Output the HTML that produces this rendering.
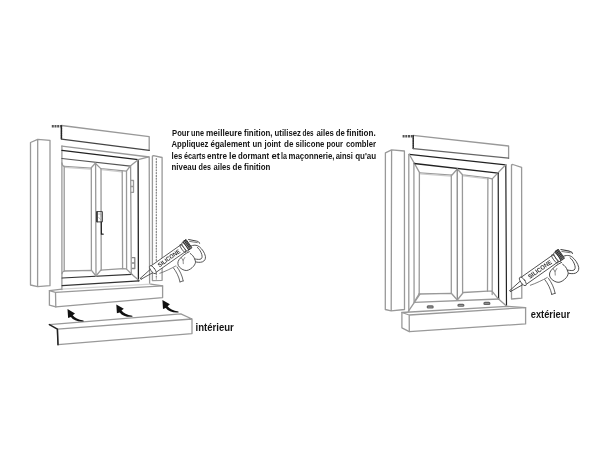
<!DOCTYPE html>
<html><head><meta charset="utf-8">
<style>
html,body{margin:0;padding:0;background:#fff;width:600px;height:466px;overflow:hidden}
svg{display:block}
.t{font-family:"Liberation Sans",sans-serif;font-weight:bold;fill:#151515}
</style></head><body>
<svg width="600" height="466" viewBox="0 0 600 466">
<defs>
<g id="gun" fill="none" stroke="#444" stroke-width="0.8" stroke-linejoin="round" stroke-linecap="round">
<!-- trigger -->
<path d="M32.6,-10.8 C35.5,-7 38,-2.5 39.2,3.2 M36.2,-11.8 C39,-8 41.3,-3.5 42.4,2.2 M39.2,3.2 L42.4,2.2" fill="#fff"/>
<!-- frame under tube -->
<path d="M19,-5.4 C25,-7.5 30,-10 35,-12.8" stroke="#666"/>
<!-- handle loop -->
<path d="M49.5,-32.4 C52.5,-34 56,-34 58.5,-32 C61.5,-29.5 63.8,-26 64.6,-22.4 C65,-19.8 64,-17.8 61.5,-16.8 C59,-16 56,-16.4 53.3,-17.2 L53.8,-19.8 C56.5,-19.3 59,-19 60.3,-19.8 C61.8,-21 61.5,-23.5 60.2,-26.3 C59.3,-28.3 58,-30.3 56.5,-31.3" fill="#fff" stroke-width="0.9"/>
<!-- body / grip housing -->
<path d="M48.5,-27 C45,-25.5 41,-22.5 38.2,-19 C36.5,-16.5 36.7,-13.5 38.7,-11.5 C40.7,-9.5 43.5,-8 46,-8.2 C48.5,-8.6 51,-10.5 52.8,-12.5 C54.2,-14.3 55,-16 54.6,-17.6 L53.8,-19.8 C53,-22 51.5,-24 49.5,-25.2" fill="#fff" stroke-width="0.9"/>
<path d="M40.5,-21 L42.3,-18.3 L44,-21.2 M42.3,-18.3 L42.5,-15" stroke-width="0.6"/>
<!-- rod -->
<path d="M47.8,-39.2 L55.8,-37.6 C57.5,-37.2 58.6,-36.6 58.8,-35.4" stroke-width="1"/>
<path d="M48.7,-37.3 L56.5,-36.1" stroke-width="0.7"/>
<g transform="rotate(-35.2)">
<!-- nozzle -->
<path d="M0,-0.6 L13.5,-2.2 M0,0.6 L13.5,2 M0,-0.6 L0,0.6"/>
<!-- tube -->
<path d="M15,-4.6 L56,-4.6 L56,3.6 L15,3.6 Z" fill="#fff"/>
<ellipse cx="15" cy="-0.5" rx="2" ry="4.8" fill="#fff"/>
<ellipse cx="51.8" cy="-0.5" rx="1.3" ry="4.8"/>
<ellipse cx="54.6" cy="-0.5" rx="1.5" ry="5.2" fill="#fff"/>
<path d="M56.2,-6 L59.6,-6 L59.6,4.2 L56.2,4.2 Z" fill="#999" stroke="#333" stroke-width="0.9"/>
<path d="M57.4,-5.6 L57.4,3.5 M58.6,-5.6 L58.6,2.5" stroke-width="0.8" stroke="#222"/>
<text style="filter:grayscale(1)" x="34.7" y="1.5" font-family="Liberation Sans,sans-serif" font-weight="bold" font-size="6" fill="#333" stroke="none" text-anchor="middle" textLength="26" lengthAdjust="spacingAndGlyphs">SILICONE</text>
</g>
</g>
<path id="arrow" d="M0,0 L7.5,4.3 L5.2,6.2 Q8,10.2 16,11.4 L16.2,12.4 Q7,13 3.4,8 L0.6,8.9 Z"/>
</defs>
<g fill="none" stroke="#999" stroke-width="1.3" stroke-linejoin="round" stroke-linecap="round">
<!-- ============ LEFT DRAWING ============ -->
<!-- left trim -->
<path d="M30.5,142.5 L37.7,139.3 L50,140.3 L50,285.7 L37.6,286.6 L30.5,285 Z M37.7,139.3 L37.6,286.6"/>
<!-- header aile -->
<path d="M61.5,125.5 L149.2,136.7 L149.2,150.3"/>
<path d="M61.4,125.7 L61.4,139" stroke="#222" stroke-width="1.6" stroke-dasharray="1.6,0.7"/>
<path d="M61.5,139.2 L149.2,150.3" stroke="#444" stroke-width="1.3"/>
<path d="M51.8,126.3 L61.2,126.2" stroke="#555" stroke-width="2.4" stroke-dasharray="2,0.7" stroke-linecap="butt"/>
<!-- right trim -->
<path d="M152.4,156.2 L153.5,155.7 L162.1,157.5 L162.1,280.3 L152.4,280.6 Z"/>
<path d="M156.3,158.5 L156.3,279" stroke-dasharray="1.1,1.7" stroke="#777" stroke-width="1.1"/>
<!-- frame -->
<path d="M61.9,146.2 L149.2,157 L149.6,283.6"/>
<path d="M61.9,146 L61.9,289.6"/>
<path d="M61.9,150.3 L138.1,159.7 L138.4,280.8" stroke="#222" stroke-width="1.3"/>
<path d="M138.1,159.7 L148.8,156.8"/>
<path d="M138.1,159.7 L130.3,166"/>
<path d="M61.9,158.5 L130.3,166.1" stroke="#555" stroke-width="1.2"/>
<path d="M130.6,166 L131.3,274.3"/>
<path d="M131.8,274.3 L139,280.6"/>
<path d="M62.1,278 L131.8,274.3" stroke="#333" stroke-width="1.2"/>
<path d="M62.1,285.7 L139,280.8" stroke="#333" stroke-width="1.2"/>
<!-- sashes -->
<path d="M61.9,162.9 Q62.5,166.3 64.2,166.4 L90.8,168.2 L95.3,163.3 L100.8,168.6 L126.4,171.2 L130.3,166"/>
<path d="M65,167.4 L90.3,169.1 M101.4,169.6 L122,171.9" stroke="#ccc" stroke-width="1.3"/>
<path d="M64.2,166.4 L64.2,271 Q62.5,271.5 62,273.5"/>
<path d="M64.2,271 L91.5,270.3 L96,276 L100.8,270.2 L122.7,268.6 L126.3,268.9 L131.8,274.3"/>
<path d="M91.3,168.2 L91.4,270.3"/>
<path d="M95.6,163.3 L96,276"/>
<path d="M101,168.6 L101.2,270.2"/>
<path d="M122.2,171 L122.6,268.6"/>
<path d="M126.5,171.2 L126.6,268.9"/>
<!-- handle -->
<path d="M96.9,211.6 L102.4,211.6 L102.4,221.9 L96.9,221.9 Z" stroke="#444" stroke-width="1"/>
<path d="M97.2,211.8 L97.2,221.7" stroke="#333" stroke-width="1.3"/>
<path d="M98.6,214 L101.2,214 L101.2,216.5 M98.8,217.5 L100.5,219.5" stroke-width="0.7"/>
<path d="M101.3,222 L101.4,234.2 L103.2,234.2" stroke="#222" stroke-width="1.2"/>
<!-- hinges -->
<path d="M130.8,180.3 L133.5,180.5 L133.5,192.3 L131,192.3 M131,186.5 L133.5,186.5" stroke="#999"/>
<path d="M132.4,257.7 L134.8,257.7 L134.8,268.5 L132.4,268.5 M132.4,263 L134.8,263" stroke="#888"/>
<!-- step block -->
<path d="M62,289.2 L150.8,284.1" stroke="#d4d4d4"/>
<path d="M62,289.2 L49.4,290.6 L49.4,305.2 L55.8,306.9 L162.6,297.6 L162.6,285.8 L150.8,284.1"/>
<path d="M49.4,290.6 L55.5,292.3 L162.6,285.8 M55.5,292.3 L55.8,306.9"/>
<!-- lower board -->
<path d="M49.4,324.6 L180.8,313.8 L192,319 L192,333.6 L58,344.7 L57.4,329.2 L192,319"/>
<path d="M49.4,324.6 L57.4,329.2 L58,344.7" stroke="#222" stroke-width="1.5"/>
<!-- ============ RIGHT DRAWING ============ -->
<!-- left trim -->
<path d="M385.4,152.8 L391.6,149.9 L404.4,151 L404.5,309.5 L391.2,310.8 L385.3,309.5 Z M391.6,149.9 L391.2,310.8"/>
<!-- header -->
<path d="M413,135.4 L508.6,146 L508.6,158.2"/>
<path d="M413.2,135.7 L413.2,148.4" stroke="#222" stroke-width="1.5" stroke-dasharray="1.6,0.7"/>
<path d="M413.3,148.6 L508.6,158.2" stroke="#666" stroke-width="1.2"/>
<path d="M402.6,136.3 L412.8,136.2" stroke="#555" stroke-width="2.5" stroke-dasharray="2,0.7" stroke-linecap="butt"/>
<!-- frame -->
<path d="M409.2,154.3 L505.7,164.8" stroke="#222" stroke-width="1.3"/>
<path d="M408.8,154.3 L408.8,311.2"/>
<path d="M505.8,164.8 L506.5,306.3" stroke="#222" stroke-width="1.2"/>
<path d="M409.2,154.3 L419.7,172.9"/>
<path d="M414.2,163.5 L498.2,173.2" stroke="#222" stroke-width="1.3"/>
<path d="M505.7,164.8 L492.2,178.9"/>
<path d="M498.2,173.2 L498.6,299.5" stroke="#222" stroke-width="1.2"/>
<path d="M413.9,163.5 L414.1,302.5"/>
<!-- glass / sashes -->
<path d="M419.7,172.9 L451.8,175.2 L457.3,169 L462.5,174.8 L487.9,177.8 L492.2,178.9"/>
<path d="M420.5,173.9 L451.3,176.1 M463.2,175.8 L487.9,178.8" stroke="#ccc" stroke-width="1.3"/>
<path d="M419.4,172.9 L419.2,294"/>
<path d="M451.3,175 L451.3,293.3"/>
<path d="M457.2,169 L457.3,300" stroke="#888"/>
<path d="M462.4,174.8 L462.6,292.5"/>
<path d="M487.9,177.8 L487.5,291.2"/>
<path d="M492.4,178.9 L492.2,294.6"/>
<path d="M419,294 L451.3,293.3 L457.3,300 L463.3,292.5 L487.5,291.2 L492,291.2"/>
<path d="M419,294 L414.5,301.5"/>
<path d="M492,291.2 L497.7,298.2"/>
<path d="M414.3,302.3 L499.3,299"/>
<path d="M419.8,294.4 L408.3,311.4"/>
<path d="M497.7,298.2 L506.7,306.3"/>
<!-- drain slots -->
<rect x="427.3" y="306" width="5.8" height="1.8" rx="0.9" fill="#bbb" stroke="#666"/>
<rect x="458" y="304.4" width="5.8" height="1.8" rx="0.9" fill="#bbb" stroke="#666"/>
<rect x="484" y="302.5" width="5.8" height="1.8" rx="0.9" fill="#bbb" stroke="#666"/>
<!-- right trim -->
<path d="M511.5,164.8 L512.8,164.5 L521.6,167.3 L521.8,298.2 L511.5,299 Z"/>
<!-- sill -->
<path d="M401.9,312.5 L507.2,306.3 L525.6,307.6 L525.6,323.9 L409.3,331.6 L401.9,327.8 Z"/>
<path d="M401.9,312.5 L409.2,315 L525.6,307.6 M409.2,315 L409.3,331.6"/>
</g>
<use href="#gun" transform="translate(140.8,278.7)"/>
<use href="#gun" transform="translate(510.2,291) scale(1.06)"/>
<!-- arrows -->
<g fill="#111">
<use href="#arrow" x="67.5" y="309.1"/>
<use href="#arrow" x="116.3" y="304.4"/>
<use href="#arrow" x="162.4" y="300"/>
</g>
<!-- text -->
<g class="t" font-size="9.6" style="filter:grayscale(1)">
<text x="172.05" y="135.6" textLength="17.40" lengthAdjust="spacingAndGlyphs">Pour</text>
<text x="191.05" y="135.6" textLength="12.90" lengthAdjust="spacingAndGlyphs">une</text>
<text x="206.05" y="135.6" textLength="35.90" lengthAdjust="spacingAndGlyphs">meilleure</text>
<text x="244.05" y="135.6" textLength="28.40" lengthAdjust="spacingAndGlyphs">finition,</text>
<text x="274.55" y="135.6" textLength="26.40" lengthAdjust="spacingAndGlyphs">utilisez</text>
<text x="302.55" y="135.6" textLength="10.90" lengthAdjust="spacingAndGlyphs">des</text>
<text x="316.55" y="135.6" textLength="17.30" lengthAdjust="spacingAndGlyphs">ailes</text>
<text x="335.65" y="135.6" textLength="9.05" lengthAdjust="spacingAndGlyphs">de</text>
<text x="346.55" y="135.6" textLength="29.20" lengthAdjust="spacingAndGlyphs">finition.</text>
<text x="171.55" y="147.2" textLength="36.90" lengthAdjust="spacingAndGlyphs">Appliquez</text>
<text x="210.55" y="147.2" textLength="39.40" lengthAdjust="spacingAndGlyphs">également</text>
<text x="252.55" y="147.2" textLength="9.40" lengthAdjust="spacingAndGlyphs">un</text>
<text x="264.55" y="147.2" textLength="16.40" lengthAdjust="spacingAndGlyphs">joint</text>
<text x="284.05" y="147.2" textLength="9.40" lengthAdjust="spacingAndGlyphs">de</text>
<text x="295.55" y="147.2" textLength="28.90" lengthAdjust="spacingAndGlyphs">silicone</text>
<text x="326.55" y="147.2" textLength="16.40" lengthAdjust="spacingAndGlyphs">pour</text>
<text x="346.05" y="147.2" textLength="29.90" lengthAdjust="spacingAndGlyphs">combler</text>
<text x="171.55" y="158.7" textLength="10.90" lengthAdjust="spacingAndGlyphs">les</text>
<text x="184.05" y="158.7" textLength="21.40" lengthAdjust="spacingAndGlyphs">écarts</text>
<text x="207.05" y="158.7" textLength="19.90" lengthAdjust="spacingAndGlyphs">entre</text>
<text x="229.05" y="158.7" textLength="7.40" lengthAdjust="spacingAndGlyphs">le</text>
<text x="238.05" y="158.7" textLength="30.90" lengthAdjust="spacingAndGlyphs">dormant</text>
<text x="271.55" y="158.7" textLength="8.40" lengthAdjust="spacingAndGlyphs">et</text>
<text x="281.05" y="158.7" textLength="5.90" lengthAdjust="spacingAndGlyphs">la</text>
<text x="288.55" y="158.7" textLength="45.90" lengthAdjust="spacingAndGlyphs">maçonnerie,</text>
<text x="335.65" y="158.7" textLength="17.20" lengthAdjust="spacingAndGlyphs">ainsi</text>
<text x="355.15" y="158.7" textLength="21.00" lengthAdjust="spacingAndGlyphs">qu'au</text>
<text x="171.55" y="170.2" textLength="24.90" lengthAdjust="spacingAndGlyphs">niveau</text>
<text x="198.55" y="170.2" textLength="12.40" lengthAdjust="spacingAndGlyphs">des</text>
<text x="213.55" y="170.2" textLength="16.90" lengthAdjust="spacingAndGlyphs">ailes</text>
<text x="232.55" y="170.2" textLength="9.40" lengthAdjust="spacingAndGlyphs">de</text>
<text x="244.05" y="170.2" textLength="26.40" lengthAdjust="spacingAndGlyphs">finition</text>
</g>
<text class="t" style="filter:grayscale(1)" font-size="11" x="195.6" y="330.8" textLength="38.2" lengthAdjust="spacingAndGlyphs">intérieur</text>
<text class="t" style="filter:grayscale(1)" font-size="11" x="530.8" y="318.3" textLength="39.2" lengthAdjust="spacingAndGlyphs">extérieur</text>
</svg>
</body></html>
